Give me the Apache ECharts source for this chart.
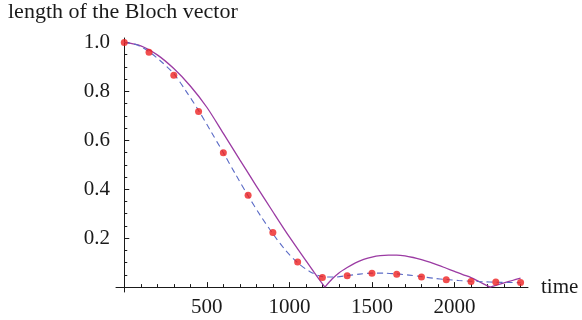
<!DOCTYPE html>
<html>
<head>
<meta charset="utf-8">
<script src="https://cdn.jsdelivr.net/npm/echarts@6/dist/echarts.min.js"></script>
<style>
  html, body { margin: 0; padding: 0; background: #fff; }
  #chart { width: 582px; height: 320px; }
</style>
</head>
<body>
<div id="chart"></div>
<script>
// red dots (sampled every 150)
const dotTime = [0, 150, 300, 450, 600, 750, 900, 1050, 1200, 1350, 1500, 1650, 1800, 1950, 2100, 2250, 2400];
const dotLen = [1.0, 0.960, 0.866, 0.718, 0.549, 0.375, 0.223, 0.103, 0.039, 0.046, 0.057, 0.053, 0.041, 0.030, 0.023, 0.021, 0.019];

// dashed blue curve
const dashTime = [0, 75, 150, 225, 300, 375, 450, 525, 600, 675, 750, 825, 900, 975, 1050, 1125, 1200, 1275, 1350, 1425, 1500, 1575, 1650, 1725, 1800, 1875, 1950, 2025, 2100, 2175, 2250, 2325, 2400];
const dashLen = [1.0, 0.990, 0.962, 0.921, 0.872, 0.800, 0.722, 0.636, 0.549, 0.460, 0.373, 0.292, 0.218, 0.152, 0.100, 0.063, 0.043, 0.041, 0.047, 0.053, 0.057, 0.057, 0.054, 0.049, 0.043, 0.036, 0.031, 0.027, 0.024, 0.022, 0.020, 0.019, 0.018];

// solid purple curve (touches zero twice)
const lineTime = [0, 100, 200, 300, 400, 500, 600, 700, 800, 900, 1000, 1100, 1150, 1215, 1260, 1300, 1350, 1400, 1450, 1500, 1550, 1600, 1650, 1700, 1750, 1800, 1850, 1900, 1950, 2000, 2050, 2100, 2150, 2215, 2260, 2300, 2350, 2400];
const lineLen = [1.0, 0.986, 0.949, 0.893, 0.822, 0.735, 0.628, 0.520, 0.413, 0.308, 0.205, 0.108, 0.060, 0.0, 0.034, 0.058, 0.080, 0.099, 0.113, 0.123, 0.129, 0.131, 0.131, 0.128, 0.121, 0.112, 0.102, 0.090, 0.077, 0.064, 0.051, 0.039, 0.022, 0.0, 0.009, 0.017, 0.027, 0.037];

// ticks
const xMajor = [500, 1000, 1500, 2000];
const xMinor = [100, 200, 300, 400, 600, 700, 800, 900, 1100, 1200, 1300, 1400, 1600, 1700, 1800, 1900, 2100, 2200, 2300, 2400];
const yMajor = [0.2, 0.4, 0.6, 0.8, 1.0];
const yMinor = [0.05, 0.1, 0.15, 0.25, 0.3, 0.35, 0.45, 0.5, 0.55, 0.65, 0.7, 0.75, 0.85, 0.9, 0.95];

const FONT = "'Liberation Serif', 'DejaVu Serif', serif";
const INK = '#1a1a1a';
const X_RANGE = { min: -50, max: 2445 };
const Y_RANGE = { min: -0.02, max: 1.018 };

const zip = (xs, ys) => xs.map((x, i) => [x, ys[i]]);

// split the solid curve at its zeros so each arch is smoothed but the cusps stay sharp
function arches(xs, ys) {
  const out = [];
  let cur = [];
  xs.forEach((x, i) => {
    cur.push([x, ys[i]]);
    if (ys[i] === 0 && i > 0 && i < xs.length - 1) {
      out.push(cur);
      cur = [[x, ys[i]]];
    }
  });
  out.push(cur);
  return out;
}

function xAxisOf(ticks, len, labels, withLine) {
  return Object.assign({
    type: 'value',
    position: 'bottom',
    axisLine: { show: withLine, onZero: true, lineStyle: { color: INK, width: 1 } },
    axisTick: { show: true, inside: true, length: len, customValues: ticks, lineStyle: { color: INK } },
    axisLabel: labels
      ? { show: true, customValues: labels, margin: 5, color: INK, fontFamily: FONT, fontSize: 21,
          formatter: v => String(v) }
      : { show: false },
    splitLine: { show: false },
  }, X_RANGE);
}

function yAxisOf(ticks, len, labels, withLine) {
  return Object.assign({
    type: 'value',
    position: 'left',
    axisLine: { show: withLine, onZero: true, lineStyle: { color: INK, width: 1 } },
    axisTick: { show: true, inside: true, length: len, customValues: ticks, lineStyle: { color: INK } },
    axisLabel: labels
      ? { show: true, customValues: labels, margin: 6, color: INK, fontFamily: FONT, fontSize: 21,
          formatter: v => v.toFixed(1) }
      : { show: false },
    splitLine: { show: false },
  }, Y_RANGE);
}

const xMain = xAxisOf(xMajor, 5, xMajor, true);
xMain.name = 'time';
xMain.nameLocation = 'end';
xMain.nameGap = 13;
xMain.nameTextStyle = { color: INK, fontFamily: FONT, fontSize: 21, padding: [5, 0, 0, 0] };

const purple = arches(lineTime, lineLen).map(seg => ({
  type: 'line',
  data: seg,
  showSymbol: false,
  smooth: 0.3,
  lineStyle: { color: '#9b3ba3', width: 1.3 },
  z: 2,
}));

const chart = echarts.init(document.getElementById('chart'), null, { renderer: 'canvas' });
chart.setOption({
  animation: false,
  backgroundColor: '#fff',
  title: {
    text: 'length of the Bloch vector',
    left: 8, top: 1, padding: 0,
    textStyle: { color: INK, fontFamily: FONT, fontSize: 22, fontWeight: 'normal' },
  },
  grid: { left: 116, right: 54, top: 38, bottom: 28, containLabel: false },
  xAxis: [xMain, xAxisOf(xMinor, 3, null, false)],
  yAxis: [yAxisOf(yMajor, 5, yMajor, true), yAxisOf(yMinor, 3, null, false)],
  series: purple.concat([
    {
      type: 'line',
      data: zip(dashTime, dashLen),
      showSymbol: false,
      smooth: 0.3,
      lineStyle: { color: '#5b6bc6', width: 1.1, type: [6, 4] },
      z: 3,
    },
    {
      type: 'scatter',
      data: zip(dotTime, dotLen),
      symbolSize: 7,
      itemStyle: { color: '#ee2222' },
      z: 4,
    },
  ]),
});
</script>
</body>
</html>
